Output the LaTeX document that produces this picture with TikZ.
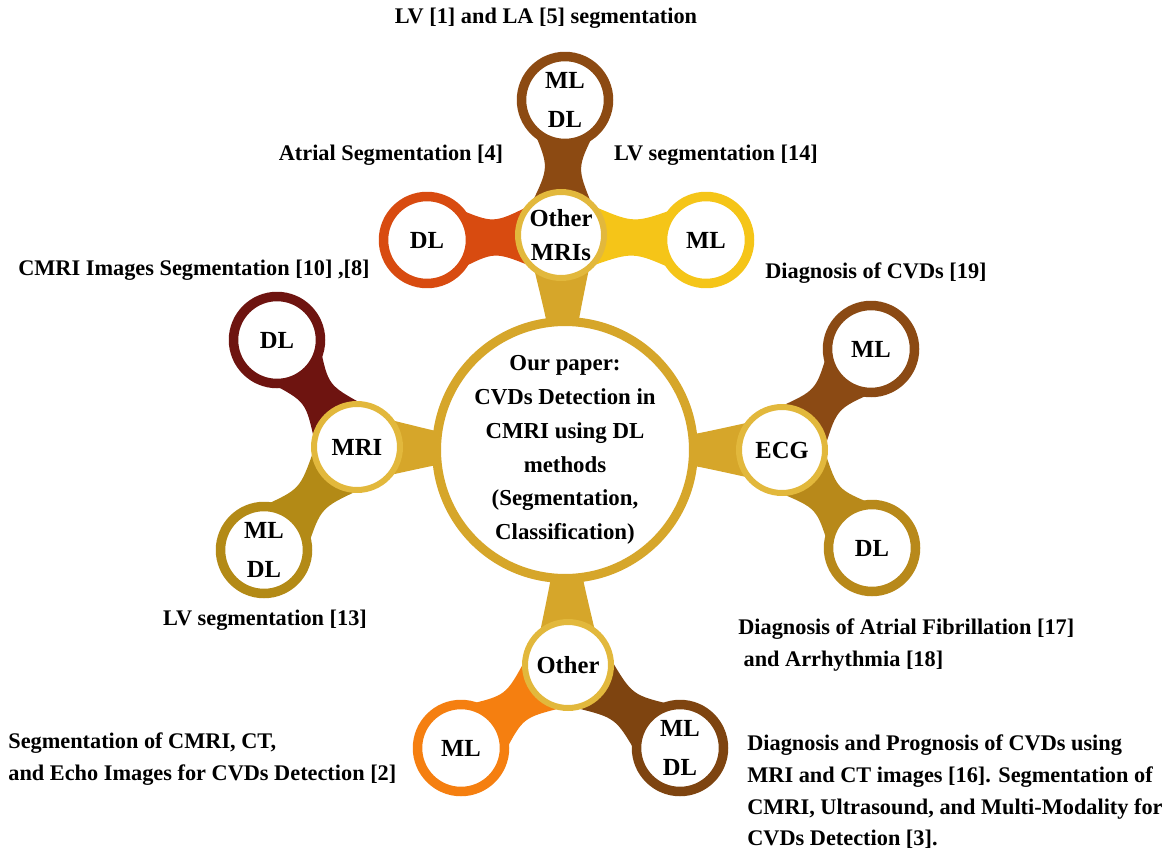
\documentclass[tikz,border=0pt]{standalone}
\usepackage{fontspec}
\setmainfont{Liberation Serif}
\usetikzlibrary{calc,backgrounds}

\definecolor{gold}{HTML}{D6A62A}
\definecolor{hubgold}{HTML}{E2B83C}
\definecolor{topbrown}{HTML}{8C4A12}
\definecolor{rust}{HTML}{D84B10}
\definecolor{sun}{HTML}{F5C518}
\definecolor{wine}{HTML}{6E1410}
\definecolor{olive}{HTML}{B38A16}
\definecolor{ecgbrown}{HTML}{8B4A14}
\definecolor{ecggold}{HTML}{B8891A}
\definecolor{tangerine}{HTML}{F57F10}
\definecolor{darkbrown}{HTML}{7E4410}

% neck between two round nodes: from, radius, half angle, to, radius, half angle, waist, colour
\newcommand{\drawneck}[8]{%
  \fill[#8] let \p1=($(#4)-(#1)$), \n1={atan2(\y1,\x1)} in
    ($(#1)+(\n1+#3:#2)$) .. controls ($(#1)!0.5!(#4)+(\n1+90:#7)$) .. ($(#4)+(\n1+180-#6:#5)$)
    -- ($(#4)+(\n1+180+#6:#5)$) .. controls ($(#1)!0.5!(#4)+(\n1-90:#7)$) .. ($(#1)+(\n1-#3:#2)$)
    -- cycle;
}

\begin{document}
\begin{tikzpicture}[x=0.02cm,y=-0.02cm,
  leaf/.style={circle,draw=#1,fill=white,line width=0.19cm,minimum size=1.74cm,inner sep=0pt,
    align=center,font=\fontsize{14}{22.7}\selectfont\bfseries},
  hub/.style={circle,draw=hubgold,fill=white,line width=0.12cm,minimum size=1.72cm,inner sep=0pt,
    align=center,font=\fontsize{14}{19}\selectfont\bfseries},
  paper/.style={circle,draw=gold,fill=white,line width=0.18cm,minimum size=5.14cm,inner sep=0pt},
  note/.style={inner sep=0pt,font=\fontsize{12.7}{18}\selectfont\bfseries}
  ]
\useasboundingbox (0,0) rectangle (1175,851);

% centre and hubs
\node[paper] (paper) at (565,450) {};
\node[align=center,font=\fontsize{13}{19.3}\selectfont\bfseries] (paperText) at (paper)
  {Our paper:\\CVDs Detection in\\CMRI using DL\\methods\\(Segmentation,\\Classification)};
\node[hub] (mriOther) at (561,235) {Other\\MRIs};
\node[hub] (mri) at (357,447) {MRI};
\node[hub] (ecg) at (782,450) {ECG};
\node[hub] (other) at (568,665) {Other};

% leaves
\node[leaf=topbrown] (topBoth) at (565,100) {ML\\DL};
\node[leaf=rust] (topDL) at (427,240) {DL};
\node[leaf=sun] (topML) at (706,240) {ML};
\node[leaf=wine] (mriDL) at (277,340) {DL};
\node[leaf=olive] (mriBoth) at (264,550) {ML\\DL};
\node[leaf=ecgbrown] (ecgML) at (871,349) {ML};
\node[leaf=ecggold] (ecgDL) at (872,548) {DL};
\node[leaf=tangerine] (othML) at (461,748) {ML};
\node[leaf=darkbrown] (othBoth) at (680,748) {ML\\DL};

% necks
\begin{scope}[on background layer]
\drawneck{mriOther}{0.86cm}{40}{paper}{2.57cm}{11}{0.22cm}{gold}
\drawneck{mri}{0.86cm}{40}{paper}{2.57cm}{11}{0.22cm}{gold}
\drawneck{ecg}{0.86cm}{40}{paper}{2.57cm}{11}{0.22cm}{gold}
\drawneck{other}{0.86cm}{40}{paper}{2.57cm}{11}{0.22cm}{gold}
\drawneck{topBoth}{0.87cm}{45}{mriOther}{0.86cm}{45}{0.28cm}{topbrown}
\drawneck{topDL}{0.87cm}{45}{mriOther}{0.86cm}{45}{0.28cm}{rust}
\drawneck{topML}{0.87cm}{45}{mriOther}{0.86cm}{45}{0.28cm}{sun}
\drawneck{mriDL}{0.87cm}{45}{mri}{0.86cm}{45}{0.28cm}{wine}
\drawneck{mriBoth}{0.87cm}{45}{mri}{0.86cm}{45}{0.28cm}{olive}
\drawneck{ecgML}{0.87cm}{45}{ecg}{0.86cm}{45}{0.28cm}{ecgbrown}
\drawneck{ecgDL}{0.87cm}{45}{ecg}{0.86cm}{45}{0.28cm}{ecggold}
\drawneck{othML}{0.87cm}{45}{other}{0.86cm}{45}{0.28cm}{tangerine}
\drawneck{othBoth}{0.87cm}{45}{other}{0.86cm}{45}{0.28cm}{darkbrown}
\end{scope}

% notes
\node[note] (noteTop) at (546,18) {LV [1] and LA [5] segmentation};
\node[note] (noteAtrial) at (391,155) {Atrial Segmentation [4]};
\node[note] (noteLV14) at (716,155) {LV segmentation [14]};
\node[note] (noteCMRI) at (194,270) {CMRI Images Segmentation [10] ,[8]};
\node[note] (noteDiag) at (876,273) {Diagnosis of CVDs [19]};
\node[note] (noteLV13) at (265,620) {LV segmentation [13]};
\node[note,anchor=west,align=left] (noteAF) at (738,645)
  {Diagnosis of Atrial Fibrillation [17]\\\hspace*{3pt}and Arrhythmia [18]};
\node[note,anchor=west,align=left] (noteEcho) at (8,759)
  {Segmentation of CMRI, CT,\\and Echo Images for CVDs Detection [2]};
\node[note,anchor=west,align=left] (noteMulti) at (747,792)
  {Diagnosis and Prognosis of CVDs using\\MRI and CT images [16]. Segmentation of\\CMRI, Ultrasound, and Multi-Modality for\\CVDs Detection [3].};
\end{tikzpicture}
\end{document}
